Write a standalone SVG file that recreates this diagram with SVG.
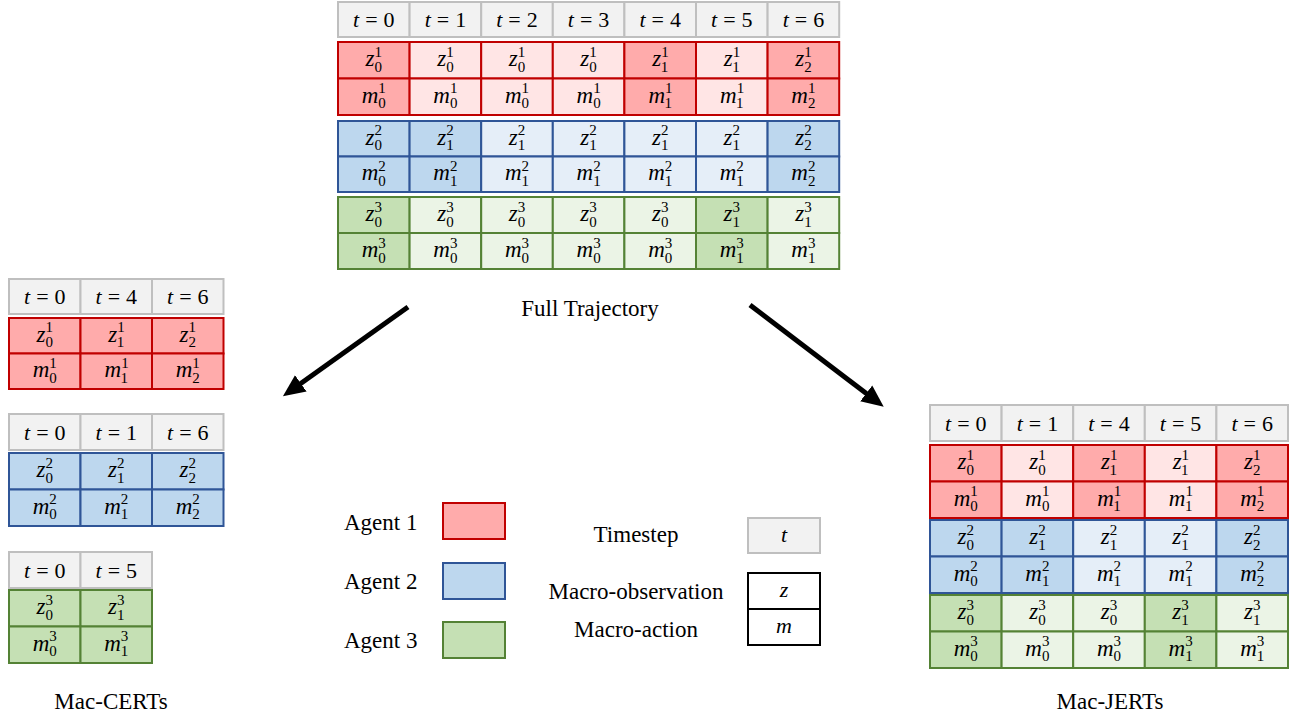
<svg xmlns="http://www.w3.org/2000/svg" width="1293" height="717" viewBox="0 0 1293 717">
<style>
rect{stroke-width:2}
.hd{fill:#f2f2f2;stroke:#bfbfbf}
.r1{fill:#ffabab;stroke:#c00000}
.r0{fill:#ffe5e5;stroke:#c00000}
.b1{fill:#bdd7ee;stroke:#2f5597}
.b0{fill:#e5eef8;stroke:#2f5597}
.g1{fill:#c5e0b4;stroke:#548235}
.g0{fill:#ebf4e6;stroke:#548235}
.lg{fill:#ffffff;stroke:#000000}
text{font-family:"Liberation Serif","Times New Roman",serif;fill:#000}
.c{font-size:23px;text-anchor:middle}
.h{font-size:22px;text-anchor:middle}
.i{font-style:italic}
.s{font-size:15px}
.lbl{font-size:23px}
.mid{text-anchor:middle}
.arrow{stroke:#000;stroke-width:5;fill:none}
</style>
<defs>
<marker id="ah" markerUnits="userSpaceOnUse" markerWidth="26" markerHeight="24" viewBox="0 -12 26 24" refX="1" refY="0" orient="auto">
<path d="M0,-10 L22,0 L0,10 Z" fill="#000"/>
</marker>
</defs>

<g id="full-trajectory">
<g id="full-header">
<rect class="hd" x="338" y="2" width="71.6" height="35"/><rect class="hd" x="409.6" y="2" width="71.6" height="35"/><rect class="hd" x="481.2" y="2" width="71.6" height="35"/><rect class="hd" x="552.8" y="2" width="71.6" height="35"/><rect class="hd" x="624.4" y="2" width="71.6" height="35"/><rect class="hd" x="696" y="2" width="71.6" height="35"/><rect class="hd" x="767.6" y="2" width="71.6" height="35"/>
<text class="h" x="373.8" y="27"><tspan class="i">t</tspan><tspan dx="6">=</tspan><tspan dx="6">0</tspan></text>
<text class="h" x="445.4" y="27"><tspan class="i">t</tspan><tspan dx="6">=</tspan><tspan dx="6">1</tspan></text>
<text class="h" x="517" y="27"><tspan class="i">t</tspan><tspan dx="6">=</tspan><tspan dx="6">2</tspan></text>
<text class="h" x="588.6" y="27"><tspan class="i">t</tspan><tspan dx="6">=</tspan><tspan dx="6">3</tspan></text>
<text class="h" x="660.2" y="27"><tspan class="i">t</tspan><tspan dx="6">=</tspan><tspan dx="6">4</tspan></text>
<text class="h" x="731.8" y="27"><tspan class="i">t</tspan><tspan dx="6">=</tspan><tspan dx="6">5</tspan></text>
<text class="h" x="803.4" y="27"><tspan class="i">t</tspan><tspan dx="6">=</tspan><tspan dx="6">6</tspan></text>
</g>
<g id="full-agent1">
<rect class="r1" x="338" y="42" width="71.6" height="36.5"/><rect class="r0" x="409.6" y="42" width="71.6" height="36.5"/><rect class="r0" x="481.2" y="42" width="71.6" height="36.5"/><rect class="r0" x="552.8" y="42" width="71.6" height="36.5"/><rect class="r1" x="624.4" y="42" width="71.6" height="36.5"/><rect class="r0" x="696" y="42" width="71.6" height="36.5"/><rect class="r1" x="767.6" y="42" width="71.6" height="36.5"/>
<rect class="r1" x="338" y="78.5" width="71.6" height="36.5"/><rect class="r0" x="409.6" y="78.5" width="71.6" height="36.5"/><rect class="r0" x="481.2" y="78.5" width="71.6" height="36.5"/><rect class="r0" x="552.8" y="78.5" width="71.6" height="36.5"/><rect class="r1" x="624.4" y="78.5" width="71.6" height="36.5"/><rect class="r0" x="696" y="78.5" width="71.6" height="36.5"/><rect class="r1" x="767.6" y="78.5" width="71.6" height="36.5"/>
<text class="c" x="373.8" y="66.3"><tspan class="i">z</tspan><tspan class="s" dy="-9.5">1</tspan><tspan class="s" dx="-7.5" dy="15">0</tspan></text>
<text class="c" x="445.4" y="66.3"><tspan class="i">z</tspan><tspan class="s" dy="-9.5">1</tspan><tspan class="s" dx="-7.5" dy="15">0</tspan></text>
<text class="c" x="517" y="66.3"><tspan class="i">z</tspan><tspan class="s" dy="-9.5">1</tspan><tspan class="s" dx="-7.5" dy="15">0</tspan></text>
<text class="c" x="588.6" y="66.3"><tspan class="i">z</tspan><tspan class="s" dy="-9.5">1</tspan><tspan class="s" dx="-7.5" dy="15">0</tspan></text>
<text class="c" x="660.2" y="66.3"><tspan class="i">z</tspan><tspan class="s" dy="-9.5">1</tspan><tspan class="s" dx="-7.5" dy="15">1</tspan></text>
<text class="c" x="731.8" y="66.3"><tspan class="i">z</tspan><tspan class="s" dy="-9.5">1</tspan><tspan class="s" dx="-7.5" dy="15">1</tspan></text>
<text class="c" x="803.4" y="66.3"><tspan class="i">z</tspan><tspan class="s" dy="-9.5">1</tspan><tspan class="s" dx="-7.5" dy="15">2</tspan></text>
<text class="c" x="373.8" y="102.8"><tspan class="i">m</tspan><tspan class="s" dy="-9.5">1</tspan><tspan class="s" dx="-7.5" dy="15">0</tspan></text>
<text class="c" x="445.4" y="102.8"><tspan class="i">m</tspan><tspan class="s" dy="-9.5">1</tspan><tspan class="s" dx="-7.5" dy="15">0</tspan></text>
<text class="c" x="517" y="102.8"><tspan class="i">m</tspan><tspan class="s" dy="-9.5">1</tspan><tspan class="s" dx="-7.5" dy="15">0</tspan></text>
<text class="c" x="588.6" y="102.8"><tspan class="i">m</tspan><tspan class="s" dy="-9.5">1</tspan><tspan class="s" dx="-7.5" dy="15">0</tspan></text>
<text class="c" x="660.2" y="102.8"><tspan class="i">m</tspan><tspan class="s" dy="-9.5">1</tspan><tspan class="s" dx="-7.5" dy="15">1</tspan></text>
<text class="c" x="731.8" y="102.8"><tspan class="i">m</tspan><tspan class="s" dy="-9.5">1</tspan><tspan class="s" dx="-7.5" dy="15">1</tspan></text>
<text class="c" x="803.4" y="102.8"><tspan class="i">m</tspan><tspan class="s" dy="-9.5">1</tspan><tspan class="s" dx="-7.5" dy="15">2</tspan></text>
</g>
<g id="full-agent2">
<rect class="b1" x="338" y="121" width="71.6" height="35.5"/><rect class="b1" x="409.6" y="121" width="71.6" height="35.5"/><rect class="b0" x="481.2" y="121" width="71.6" height="35.5"/><rect class="b0" x="552.8" y="121" width="71.6" height="35.5"/><rect class="b0" x="624.4" y="121" width="71.6" height="35.5"/><rect class="b0" x="696" y="121" width="71.6" height="35.5"/><rect class="b1" x="767.6" y="121" width="71.6" height="35.5"/>
<rect class="b1" x="338" y="156.5" width="71.6" height="35.5"/><rect class="b1" x="409.6" y="156.5" width="71.6" height="35.5"/><rect class="b0" x="481.2" y="156.5" width="71.6" height="35.5"/><rect class="b0" x="552.8" y="156.5" width="71.6" height="35.5"/><rect class="b0" x="624.4" y="156.5" width="71.6" height="35.5"/><rect class="b0" x="696" y="156.5" width="71.6" height="35.5"/><rect class="b1" x="767.6" y="156.5" width="71.6" height="35.5"/>
<text class="c" x="373.8" y="144.8"><tspan class="i">z</tspan><tspan class="s" dy="-9.5">2</tspan><tspan class="s" dx="-7.5" dy="15">0</tspan></text>
<text class="c" x="445.4" y="144.8"><tspan class="i">z</tspan><tspan class="s" dy="-9.5">2</tspan><tspan class="s" dx="-7.5" dy="15">1</tspan></text>
<text class="c" x="517" y="144.8"><tspan class="i">z</tspan><tspan class="s" dy="-9.5">2</tspan><tspan class="s" dx="-7.5" dy="15">1</tspan></text>
<text class="c" x="588.6" y="144.8"><tspan class="i">z</tspan><tspan class="s" dy="-9.5">2</tspan><tspan class="s" dx="-7.5" dy="15">1</tspan></text>
<text class="c" x="660.2" y="144.8"><tspan class="i">z</tspan><tspan class="s" dy="-9.5">2</tspan><tspan class="s" dx="-7.5" dy="15">1</tspan></text>
<text class="c" x="731.8" y="144.8"><tspan class="i">z</tspan><tspan class="s" dy="-9.5">2</tspan><tspan class="s" dx="-7.5" dy="15">1</tspan></text>
<text class="c" x="803.4" y="144.8"><tspan class="i">z</tspan><tspan class="s" dy="-9.5">2</tspan><tspan class="s" dx="-7.5" dy="15">2</tspan></text>
<text class="c" x="373.8" y="180.3"><tspan class="i">m</tspan><tspan class="s" dy="-9.5">2</tspan><tspan class="s" dx="-7.5" dy="15">0</tspan></text>
<text class="c" x="445.4" y="180.3"><tspan class="i">m</tspan><tspan class="s" dy="-9.5">2</tspan><tspan class="s" dx="-7.5" dy="15">1</tspan></text>
<text class="c" x="517" y="180.3"><tspan class="i">m</tspan><tspan class="s" dy="-9.5">2</tspan><tspan class="s" dx="-7.5" dy="15">1</tspan></text>
<text class="c" x="588.6" y="180.3"><tspan class="i">m</tspan><tspan class="s" dy="-9.5">2</tspan><tspan class="s" dx="-7.5" dy="15">1</tspan></text>
<text class="c" x="660.2" y="180.3"><tspan class="i">m</tspan><tspan class="s" dy="-9.5">2</tspan><tspan class="s" dx="-7.5" dy="15">1</tspan></text>
<text class="c" x="731.8" y="180.3"><tspan class="i">m</tspan><tspan class="s" dy="-9.5">2</tspan><tspan class="s" dx="-7.5" dy="15">1</tspan></text>
<text class="c" x="803.4" y="180.3"><tspan class="i">m</tspan><tspan class="s" dy="-9.5">2</tspan><tspan class="s" dx="-7.5" dy="15">2</tspan></text>
</g>
<g id="full-agent3">
<rect class="g1" x="338" y="197" width="71.6" height="36"/><rect class="g0" x="409.6" y="197" width="71.6" height="36"/><rect class="g0" x="481.2" y="197" width="71.6" height="36"/><rect class="g0" x="552.8" y="197" width="71.6" height="36"/><rect class="g0" x="624.4" y="197" width="71.6" height="36"/><rect class="g1" x="696" y="197" width="71.6" height="36"/><rect class="g0" x="767.6" y="197" width="71.6" height="36"/>
<rect class="g1" x="338" y="233" width="71.6" height="36"/><rect class="g0" x="409.6" y="233" width="71.6" height="36"/><rect class="g0" x="481.2" y="233" width="71.6" height="36"/><rect class="g0" x="552.8" y="233" width="71.6" height="36"/><rect class="g0" x="624.4" y="233" width="71.6" height="36"/><rect class="g1" x="696" y="233" width="71.6" height="36"/><rect class="g0" x="767.6" y="233" width="71.6" height="36"/>
<text class="c" x="373.8" y="221"><tspan class="i">z</tspan><tspan class="s" dy="-9.5">3</tspan><tspan class="s" dx="-7.5" dy="15">0</tspan></text>
<text class="c" x="445.4" y="221"><tspan class="i">z</tspan><tspan class="s" dy="-9.5">3</tspan><tspan class="s" dx="-7.5" dy="15">0</tspan></text>
<text class="c" x="517" y="221"><tspan class="i">z</tspan><tspan class="s" dy="-9.5">3</tspan><tspan class="s" dx="-7.5" dy="15">0</tspan></text>
<text class="c" x="588.6" y="221"><tspan class="i">z</tspan><tspan class="s" dy="-9.5">3</tspan><tspan class="s" dx="-7.5" dy="15">0</tspan></text>
<text class="c" x="660.2" y="221"><tspan class="i">z</tspan><tspan class="s" dy="-9.5">3</tspan><tspan class="s" dx="-7.5" dy="15">0</tspan></text>
<text class="c" x="731.8" y="221"><tspan class="i">z</tspan><tspan class="s" dy="-9.5">3</tspan><tspan class="s" dx="-7.5" dy="15">1</tspan></text>
<text class="c" x="803.4" y="221"><tspan class="i">z</tspan><tspan class="s" dy="-9.5">3</tspan><tspan class="s" dx="-7.5" dy="15">1</tspan></text>
<text class="c" x="373.8" y="257"><tspan class="i">m</tspan><tspan class="s" dy="-9.5">3</tspan><tspan class="s" dx="-7.5" dy="15">0</tspan></text>
<text class="c" x="445.4" y="257"><tspan class="i">m</tspan><tspan class="s" dy="-9.5">3</tspan><tspan class="s" dx="-7.5" dy="15">0</tspan></text>
<text class="c" x="517" y="257"><tspan class="i">m</tspan><tspan class="s" dy="-9.5">3</tspan><tspan class="s" dx="-7.5" dy="15">0</tspan></text>
<text class="c" x="588.6" y="257"><tspan class="i">m</tspan><tspan class="s" dy="-9.5">3</tspan><tspan class="s" dx="-7.5" dy="15">0</tspan></text>
<text class="c" x="660.2" y="257"><tspan class="i">m</tspan><tspan class="s" dy="-9.5">3</tspan><tspan class="s" dx="-7.5" dy="15">0</tspan></text>
<text class="c" x="731.8" y="257"><tspan class="i">m</tspan><tspan class="s" dy="-9.5">3</tspan><tspan class="s" dx="-7.5" dy="15">1</tspan></text>
<text class="c" x="803.4" y="257"><tspan class="i">m</tspan><tspan class="s" dy="-9.5">3</tspan><tspan class="s" dx="-7.5" dy="15">1</tspan></text>
</g>
<text class="lbl mid" x="590" y="316">Full Trajectory</text>
</g>

<g id="cert-agent1">
<rect class="hd" x="9" y="279" width="71.5" height="35"/><rect class="hd" x="80.5" y="279" width="71.5" height="35"/><rect class="hd" x="152" y="279" width="71.5" height="35"/>
<text class="h" x="44.8" y="304"><tspan class="i">t</tspan><tspan dx="6">=</tspan><tspan dx="6">0</tspan></text>
<text class="h" x="116.3" y="304"><tspan class="i">t</tspan><tspan dx="6">=</tspan><tspan dx="6">4</tspan></text>
<text class="h" x="187.8" y="304"><tspan class="i">t</tspan><tspan dx="6">=</tspan><tspan dx="6">6</tspan></text>
<rect class="r1" x="9" y="318" width="71.5" height="35.5"/><rect class="r1" x="80.5" y="318" width="71.5" height="35.5"/><rect class="r1" x="152" y="318" width="71.5" height="35.5"/>
<rect class="r1" x="9" y="353.5" width="71.5" height="35.5"/><rect class="r1" x="80.5" y="353.5" width="71.5" height="35.5"/><rect class="r1" x="152" y="353.5" width="71.5" height="35.5"/>
<text class="c" x="44.8" y="341.8"><tspan class="i">z</tspan><tspan class="s" dy="-9.5">1</tspan><tspan class="s" dx="-7.5" dy="15">0</tspan></text>
<text class="c" x="116.3" y="341.8"><tspan class="i">z</tspan><tspan class="s" dy="-9.5">1</tspan><tspan class="s" dx="-7.5" dy="15">1</tspan></text>
<text class="c" x="187.8" y="341.8"><tspan class="i">z</tspan><tspan class="s" dy="-9.5">1</tspan><tspan class="s" dx="-7.5" dy="15">2</tspan></text>
<text class="c" x="44.8" y="377.3"><tspan class="i">m</tspan><tspan class="s" dy="-9.5">1</tspan><tspan class="s" dx="-7.5" dy="15">0</tspan></text>
<text class="c" x="116.3" y="377.3"><tspan class="i">m</tspan><tspan class="s" dy="-9.5">1</tspan><tspan class="s" dx="-7.5" dy="15">1</tspan></text>
<text class="c" x="187.8" y="377.3"><tspan class="i">m</tspan><tspan class="s" dy="-9.5">1</tspan><tspan class="s" dx="-7.5" dy="15">2</tspan></text>
</g>

<g id="cert-agent2">
<rect class="hd" x="9" y="414" width="71.5" height="36"/><rect class="hd" x="80.5" y="414" width="71.5" height="36"/><rect class="hd" x="152" y="414" width="71.5" height="36"/>
<text class="h" x="44.8" y="439.5"><tspan class="i">t</tspan><tspan dx="6">=</tspan><tspan dx="6">0</tspan></text>
<text class="h" x="116.3" y="439.5"><tspan class="i">t</tspan><tspan dx="6">=</tspan><tspan dx="6">1</tspan></text>
<text class="h" x="187.8" y="439.5"><tspan class="i">t</tspan><tspan dx="6">=</tspan><tspan dx="6">6</tspan></text>
<rect class="b1" x="9" y="453" width="71.5" height="36.5"/><rect class="b1" x="80.5" y="453" width="71.5" height="36.5"/><rect class="b1" x="152" y="453" width="71.5" height="36.5"/>
<rect class="b1" x="9" y="489.5" width="71.5" height="36.5"/><rect class="b1" x="80.5" y="489.5" width="71.5" height="36.5"/><rect class="b1" x="152" y="489.5" width="71.5" height="36.5"/>
<text class="c" x="44.8" y="477.3"><tspan class="i">z</tspan><tspan class="s" dy="-9.5">2</tspan><tspan class="s" dx="-7.5" dy="15">0</tspan></text>
<text class="c" x="116.3" y="477.3"><tspan class="i">z</tspan><tspan class="s" dy="-9.5">2</tspan><tspan class="s" dx="-7.5" dy="15">1</tspan></text>
<text class="c" x="187.8" y="477.3"><tspan class="i">z</tspan><tspan class="s" dy="-9.5">2</tspan><tspan class="s" dx="-7.5" dy="15">2</tspan></text>
<text class="c" x="44.8" y="513.8"><tspan class="i">m</tspan><tspan class="s" dy="-9.5">2</tspan><tspan class="s" dx="-7.5" dy="15">0</tspan></text>
<text class="c" x="116.3" y="513.8"><tspan class="i">m</tspan><tspan class="s" dy="-9.5">2</tspan><tspan class="s" dx="-7.5" dy="15">1</tspan></text>
<text class="c" x="187.8" y="513.8"><tspan class="i">m</tspan><tspan class="s" dy="-9.5">2</tspan><tspan class="s" dx="-7.5" dy="15">2</tspan></text>
</g>

<g id="cert-agent3">
<rect class="hd" x="9" y="552" width="71.5" height="36"/><rect class="hd" x="80.5" y="552" width="71.5" height="36"/>
<text class="h" x="44.8" y="577.5"><tspan class="i">t</tspan><tspan dx="6">=</tspan><tspan dx="6">0</tspan></text>
<text class="h" x="116.3" y="577.5"><tspan class="i">t</tspan><tspan dx="6">=</tspan><tspan dx="6">5</tspan></text>
<rect class="g1" x="9" y="590" width="71.5" height="36.5"/><rect class="g1" x="80.5" y="590" width="71.5" height="36.5"/>
<rect class="g1" x="9" y="626.5" width="71.5" height="36.5"/><rect class="g1" x="80.5" y="626.5" width="71.5" height="36.5"/>
<text class="c" x="44.8" y="614.3"><tspan class="i">z</tspan><tspan class="s" dy="-9.5">3</tspan><tspan class="s" dx="-7.5" dy="15">0</tspan></text>
<text class="c" x="116.3" y="614.3"><tspan class="i">z</tspan><tspan class="s" dy="-9.5">3</tspan><tspan class="s" dx="-7.5" dy="15">1</tspan></text>
<text class="c" x="44.8" y="650.8"><tspan class="i">m</tspan><tspan class="s" dy="-9.5">3</tspan><tspan class="s" dx="-7.5" dy="15">0</tspan></text>
<text class="c" x="116.3" y="650.8"><tspan class="i">m</tspan><tspan class="s" dy="-9.5">3</tspan><tspan class="s" dx="-7.5" dy="15">1</tspan></text>
</g>
<text class="lbl mid" x="111" y="709">Mac-CERTs</text>

<g id="jert">
<rect class="hd" x="930" y="405" width="71.6" height="36"/><rect class="hd" x="1001.6" y="405" width="71.6" height="36"/><rect class="hd" x="1073.2" y="405" width="71.6" height="36"/><rect class="hd" x="1144.8" y="405" width="71.6" height="36"/><rect class="hd" x="1216.4" y="405" width="71.6" height="36"/>
<text class="h" x="965.8" y="430.5"><tspan class="i">t</tspan><tspan dx="6">=</tspan><tspan dx="6">0</tspan></text>
<text class="h" x="1037.4" y="430.5"><tspan class="i">t</tspan><tspan dx="6">=</tspan><tspan dx="6">1</tspan></text>
<text class="h" x="1109" y="430.5"><tspan class="i">t</tspan><tspan dx="6">=</tspan><tspan dx="6">4</tspan></text>
<text class="h" x="1180.6" y="430.5"><tspan class="i">t</tspan><tspan dx="6">=</tspan><tspan dx="6">5</tspan></text>
<text class="h" x="1252.2" y="430.5"><tspan class="i">t</tspan><tspan dx="6">=</tspan><tspan dx="6">6</tspan></text>
<rect class="r1" x="930" y="445" width="71.6" height="36.5"/><rect class="r0" x="1001.6" y="445" width="71.6" height="36.5"/><rect class="r1" x="1073.2" y="445" width="71.6" height="36.5"/><rect class="r0" x="1144.8" y="445" width="71.6" height="36.5"/><rect class="r1" x="1216.4" y="445" width="71.6" height="36.5"/>
<rect class="r1" x="930" y="481.5" width="71.6" height="36.5"/><rect class="r0" x="1001.6" y="481.5" width="71.6" height="36.5"/><rect class="r1" x="1073.2" y="481.5" width="71.6" height="36.5"/><rect class="r0" x="1144.8" y="481.5" width="71.6" height="36.5"/><rect class="r1" x="1216.4" y="481.5" width="71.6" height="36.5"/>
<text class="c" x="965.8" y="469.3"><tspan class="i">z</tspan><tspan class="s" dy="-9.5">1</tspan><tspan class="s" dx="-7.5" dy="15">0</tspan></text>
<text class="c" x="1037.4" y="469.3"><tspan class="i">z</tspan><tspan class="s" dy="-9.5">1</tspan><tspan class="s" dx="-7.5" dy="15">0</tspan></text>
<text class="c" x="1109" y="469.3"><tspan class="i">z</tspan><tspan class="s" dy="-9.5">1</tspan><tspan class="s" dx="-7.5" dy="15">1</tspan></text>
<text class="c" x="1180.6" y="469.3"><tspan class="i">z</tspan><tspan class="s" dy="-9.5">1</tspan><tspan class="s" dx="-7.5" dy="15">1</tspan></text>
<text class="c" x="1252.2" y="469.3"><tspan class="i">z</tspan><tspan class="s" dy="-9.5">1</tspan><tspan class="s" dx="-7.5" dy="15">2</tspan></text>
<text class="c" x="965.8" y="505.8"><tspan class="i">m</tspan><tspan class="s" dy="-9.5">1</tspan><tspan class="s" dx="-7.5" dy="15">0</tspan></text>
<text class="c" x="1037.4" y="505.8"><tspan class="i">m</tspan><tspan class="s" dy="-9.5">1</tspan><tspan class="s" dx="-7.5" dy="15">0</tspan></text>
<text class="c" x="1109" y="505.8"><tspan class="i">m</tspan><tspan class="s" dy="-9.5">1</tspan><tspan class="s" dx="-7.5" dy="15">1</tspan></text>
<text class="c" x="1180.6" y="505.8"><tspan class="i">m</tspan><tspan class="s" dy="-9.5">1</tspan><tspan class="s" dx="-7.5" dy="15">1</tspan></text>
<text class="c" x="1252.2" y="505.8"><tspan class="i">m</tspan><tspan class="s" dy="-9.5">1</tspan><tspan class="s" dx="-7.5" dy="15">2</tspan></text>
<rect class="b1" x="930" y="520" width="71.6" height="36.5"/><rect class="b1" x="1001.6" y="520" width="71.6" height="36.5"/><rect class="b0" x="1073.2" y="520" width="71.6" height="36.5"/><rect class="b0" x="1144.8" y="520" width="71.6" height="36.5"/><rect class="b1" x="1216.4" y="520" width="71.6" height="36.5"/>
<rect class="b1" x="930" y="556.5" width="71.6" height="36.5"/><rect class="b1" x="1001.6" y="556.5" width="71.6" height="36.5"/><rect class="b0" x="1073.2" y="556.5" width="71.6" height="36.5"/><rect class="b0" x="1144.8" y="556.5" width="71.6" height="36.5"/><rect class="b1" x="1216.4" y="556.5" width="71.6" height="36.5"/>
<text class="c" x="965.8" y="544.3"><tspan class="i">z</tspan><tspan class="s" dy="-9.5">2</tspan><tspan class="s" dx="-7.5" dy="15">0</tspan></text>
<text class="c" x="1037.4" y="544.3"><tspan class="i">z</tspan><tspan class="s" dy="-9.5">2</tspan><tspan class="s" dx="-7.5" dy="15">1</tspan></text>
<text class="c" x="1109" y="544.3"><tspan class="i">z</tspan><tspan class="s" dy="-9.5">2</tspan><tspan class="s" dx="-7.5" dy="15">1</tspan></text>
<text class="c" x="1180.6" y="544.3"><tspan class="i">z</tspan><tspan class="s" dy="-9.5">2</tspan><tspan class="s" dx="-7.5" dy="15">1</tspan></text>
<text class="c" x="1252.2" y="544.3"><tspan class="i">z</tspan><tspan class="s" dy="-9.5">2</tspan><tspan class="s" dx="-7.5" dy="15">2</tspan></text>
<text class="c" x="965.8" y="580.8"><tspan class="i">m</tspan><tspan class="s" dy="-9.5">2</tspan><tspan class="s" dx="-7.5" dy="15">0</tspan></text>
<text class="c" x="1037.4" y="580.8"><tspan class="i">m</tspan><tspan class="s" dy="-9.5">2</tspan><tspan class="s" dx="-7.5" dy="15">1</tspan></text>
<text class="c" x="1109" y="580.8"><tspan class="i">m</tspan><tspan class="s" dy="-9.5">2</tspan><tspan class="s" dx="-7.5" dy="15">1</tspan></text>
<text class="c" x="1180.6" y="580.8"><tspan class="i">m</tspan><tspan class="s" dy="-9.5">2</tspan><tspan class="s" dx="-7.5" dy="15">1</tspan></text>
<text class="c" x="1252.2" y="580.8"><tspan class="i">m</tspan><tspan class="s" dy="-9.5">2</tspan><tspan class="s" dx="-7.5" dy="15">2</tspan></text>
<rect class="g1" x="930" y="595" width="71.6" height="36.5"/><rect class="g0" x="1001.6" y="595" width="71.6" height="36.5"/><rect class="g0" x="1073.2" y="595" width="71.6" height="36.5"/><rect class="g1" x="1144.8" y="595" width="71.6" height="36.5"/><rect class="g0" x="1216.4" y="595" width="71.6" height="36.5"/>
<rect class="g1" x="930" y="631.5" width="71.6" height="36.5"/><rect class="g0" x="1001.6" y="631.5" width="71.6" height="36.5"/><rect class="g0" x="1073.2" y="631.5" width="71.6" height="36.5"/><rect class="g1" x="1144.8" y="631.5" width="71.6" height="36.5"/><rect class="g0" x="1216.4" y="631.5" width="71.6" height="36.5"/>
<text class="c" x="965.8" y="619.3"><tspan class="i">z</tspan><tspan class="s" dy="-9.5">3</tspan><tspan class="s" dx="-7.5" dy="15">0</tspan></text>
<text class="c" x="1037.4" y="619.3"><tspan class="i">z</tspan><tspan class="s" dy="-9.5">3</tspan><tspan class="s" dx="-7.5" dy="15">0</tspan></text>
<text class="c" x="1109" y="619.3"><tspan class="i">z</tspan><tspan class="s" dy="-9.5">3</tspan><tspan class="s" dx="-7.5" dy="15">0</tspan></text>
<text class="c" x="1180.6" y="619.3"><tspan class="i">z</tspan><tspan class="s" dy="-9.5">3</tspan><tspan class="s" dx="-7.5" dy="15">1</tspan></text>
<text class="c" x="1252.2" y="619.3"><tspan class="i">z</tspan><tspan class="s" dy="-9.5">3</tspan><tspan class="s" dx="-7.5" dy="15">1</tspan></text>
<text class="c" x="965.8" y="655.8"><tspan class="i">m</tspan><tspan class="s" dy="-9.5">3</tspan><tspan class="s" dx="-7.5" dy="15">0</tspan></text>
<text class="c" x="1037.4" y="655.8"><tspan class="i">m</tspan><tspan class="s" dy="-9.5">3</tspan><tspan class="s" dx="-7.5" dy="15">0</tspan></text>
<text class="c" x="1109" y="655.8"><tspan class="i">m</tspan><tspan class="s" dy="-9.5">3</tspan><tspan class="s" dx="-7.5" dy="15">0</tspan></text>
<text class="c" x="1180.6" y="655.8"><tspan class="i">m</tspan><tspan class="s" dy="-9.5">3</tspan><tspan class="s" dx="-7.5" dy="15">1</tspan></text>
<text class="c" x="1252.2" y="655.8"><tspan class="i">m</tspan><tspan class="s" dy="-9.5">3</tspan><tspan class="s" dx="-7.5" dy="15">1</tspan></text>
</g>
<text class="lbl mid" x="1110" y="709">Mac-JERTs</text>

<g id="legend">
<text class="lbl" x="344" y="530">Agent 1</text>
<text class="lbl" x="344" y="589">Agent 2</text>
<text class="lbl" x="344" y="648">Agent 3</text>
<rect class="r1" x="443" y="503" width="62" height="36"/>
<rect class="b1" x="443" y="563" width="62" height="36"/>
<rect class="g1" x="443" y="622" width="62" height="36"/>
<text class="lbl mid" x="636" y="542">Timestep</text>
<text class="lbl mid" x="636" y="599">Macro-observation</text>
<text class="lbl mid" x="636" y="637">Macro-action</text>
<rect class="hd" x="748" y="518" width="72" height="35"/>
<text class="h i" x="784" y="542">t</text>
<rect class="lg" x="748" y="573" width="72" height="36"/>
<rect class="lg" x="748" y="609" width="72" height="36"/>
<text class="h i" x="784" y="597">z</text>
<text class="h i" x="784" y="633">m</text>
</g>

<g id="connectors">
<line class="arrow" x1="408" y1="307" x2="300" y2="384" marker-end="url(#ah)"/>
<line class="arrow" x1="750" y1="305" x2="867" y2="394" marker-end="url(#ah)"/>
</g>
</svg>
